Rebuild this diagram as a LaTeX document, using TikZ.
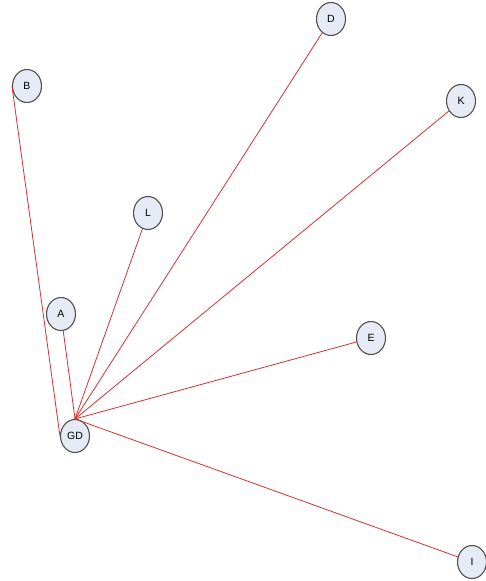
\documentclass[tikz,border=0pt]{standalone}
\usepackage{fontspec}
\setmainfont{Liberation Sans}
\usetikzlibrary{shapes.geometric}
\definecolor{nodefill}{HTML}{E6EAF4}
\definecolor{nodeline}{HTML}{505050}
\definecolor{edgered}{HTML}{D83030}
\tikzset{
  vtx/.style={ellipse, draw=nodeline, fill=nodefill, line width=1.1pt,
    minimum width=29pt, minimum height=33pt, inner sep=0pt,
    font=\fontsize{10.5}{12}\selectfont},
  link/.style={draw=edgered, line width=0.8pt}
}
\begin{document}
\begin{tikzpicture}[x=1pt,y=-1pt]
\useasboundingbox (0,0) rectangle (486,581);
\node[vtx] (B)  at (27,86)   {B};
\node[vtx] (D)  at (331,19)  {D};
\node[vtx] (K)  at (461,101) {K};
\node[vtx] (L)  at (148,213) {L};
\node[vtx] (A)  at (61,314)  {A};
\node[vtx] (E)  at (371,338) {E};
\node[vtx] (GD) at (75,436)  {GD};
\node[vtx] (I)  at (472,562) {I};
\draw[link] (GD.west) -- (B.west);
\draw[link] (GD.north) -- (A);
\draw[link] (GD.north) -- (L);
\draw[link] (GD.north) -- (D);
\draw[link] (GD.north) -- (K);
\draw[link] (GD.north) -- (E);
\draw[link] (GD.north) -- (I);
\end{tikzpicture}
\end{document}
